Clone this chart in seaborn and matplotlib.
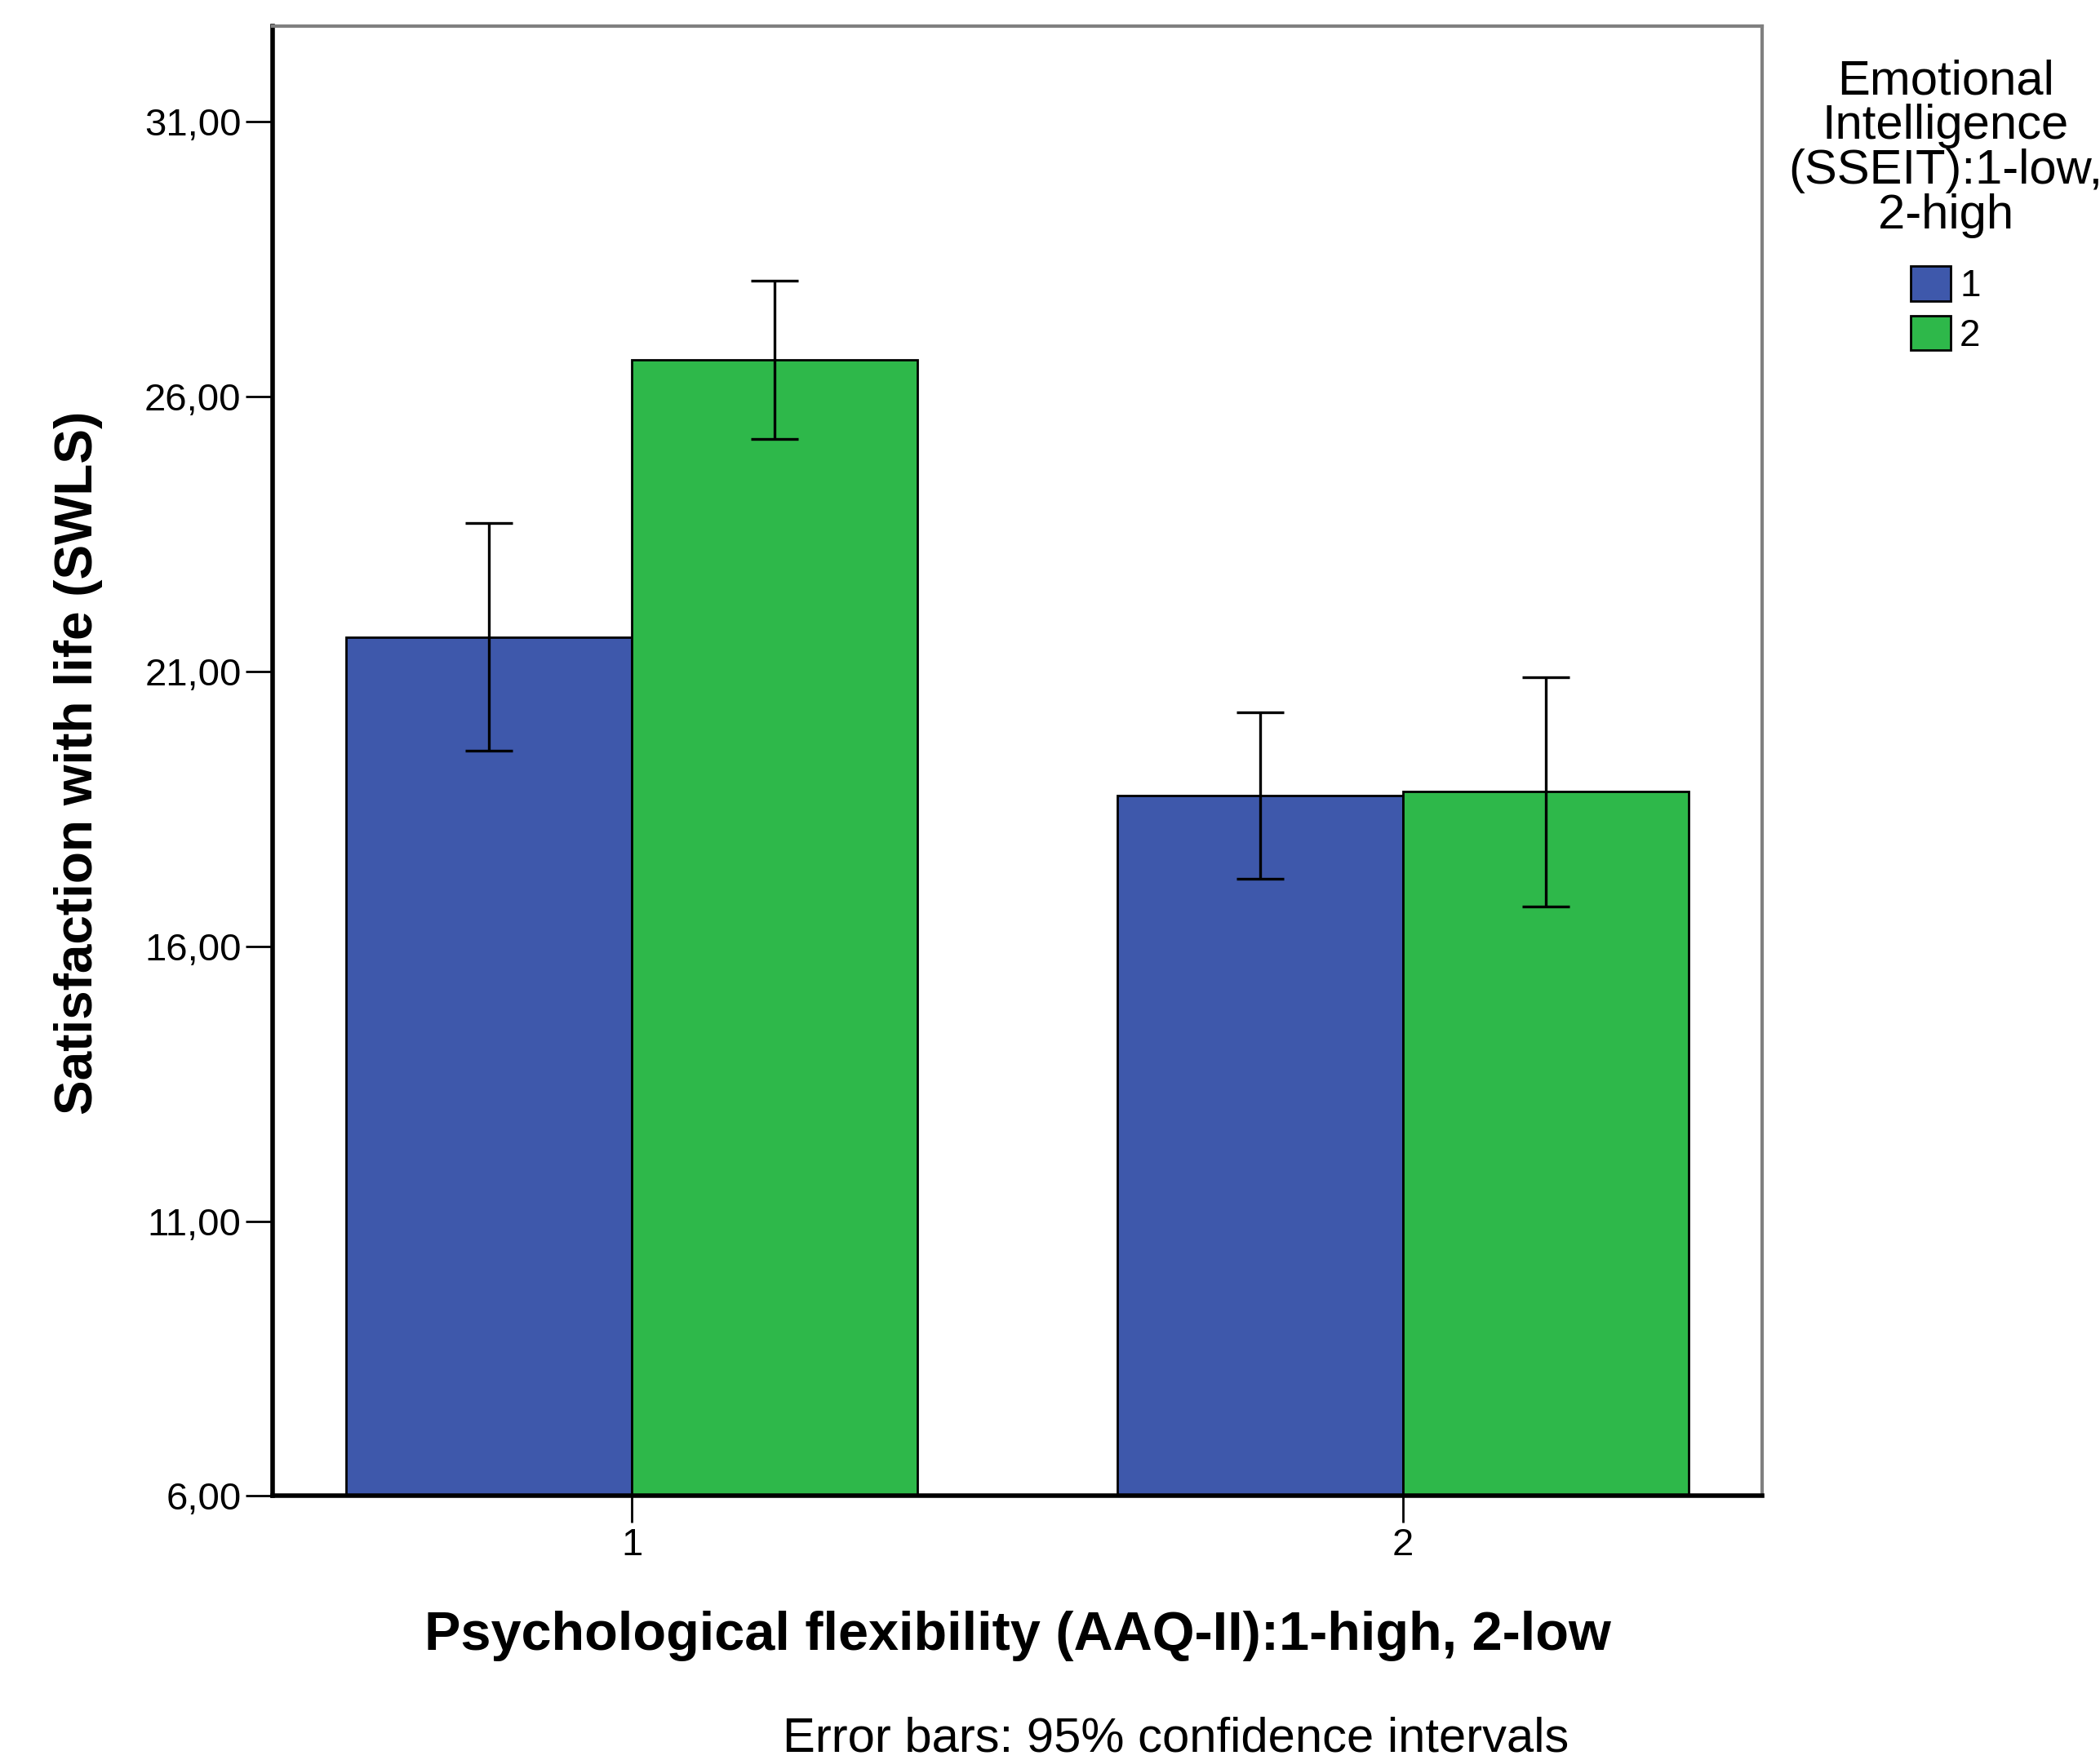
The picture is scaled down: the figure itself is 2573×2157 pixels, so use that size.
import matplotlib
matplotlib.use('Agg')
import numpy as np
import pandas as pd
import matplotlib.pyplot as plt
from matplotlib.patches import Patch
import seaborn as sns

# values
flex_group = ['1', '1', '2', '2']          # Psychological flexibility (AAQ-II)
ei_group = ['1', '2', '1', '2']            # Emotional Intelligence (SSEIT)
swls_mean = [21.62, 26.66, 18.74, 18.82]
ci_low = [19.55, 25.23, 17.23, 16.72]
ci_high = [23.69, 28.10, 20.25, 20.89]

yticks = [6, 11, 16, 21, 26, 31]
ytick_labels = ['6,00', '11,00', '16,00', '21,00', '26,00', '31,00']

blue = '#3E58AB'
green = '#2EB84A'

df = pd.DataFrame({'flex': flex_group, 'ei': ei_group, 'swls': swls_mean,
                   'lo': ci_low, 'hi': ci_high})

sns.set_style('white')
plt.rcParams['font.family'] = ['Liberation Sans', 'DejaVu Sans']
plt.rcParams['text.color'] = 'black'
plt.rcParams['axes.labelcolor'] = 'black'
plt.rcParams['xtick.color'] = 'black'
plt.rcParams['ytick.color'] = 'black'

fig = plt.figure(figsize=(25.73, 21.57), dpi=100)
ax = fig.add_axes([0.130, 0.150, 0.709, 0.835])

sns.barplot(data=df, x='flex', y='swls', hue='ei', order=['1', '2'],
            hue_order=['1', '2'], palette=[blue, green], width=0.74,
            errorbar=None, edgecolor='black', linewidth=2, legend=False,
            saturation=1, ax=ax)

# error bars at the centres of the drawn bars
for level, cont in zip(['1', '2'], ax.containers):
    for cat, bar in zip(['1', '2'], cont):
        row = df[(df.flex == cat) & (df.ei == level)].iloc[0]
        xc = bar.get_x() + bar.get_width() / 2
        ax.errorbar([xc], [row.swls], yerr=[[row.swls - row.lo], [row.hi - row.swls]],
                    fmt='none', ecolor='black', elinewidth=2.4, capsize=21,
                    capthick=2.4, zorder=4)

ax.set_xlim(-0.465, 1.465)
ax.set_ylim(6, 32.73)
ax.set_yticks(yticks)
ax.set_yticklabels(ytick_labels)

ax.tick_params(axis='both', direction='out', length=24, width=2, color='black',
               labelcolor='black', labelsize=34, pad=4, left=True, bottom=True)

for side in ['left', 'bottom']:
    ax.spines[side].set_color('black')
    ax.spines[side].set_linewidth(4)
for side in ['top', 'right']:
    ax.spines[side].set_color('#808080')
    ax.spines[side].set_linewidth(3)

ax.set_xlabel('Psychological flexibility (AAQ-II):1-high, 2-low',
              fontsize=48, fontweight='bold', va='center', color='black')
ax.xaxis.set_label_coords(0.5, -0.095)
ax.set_ylabel('Satisfaction with life (SWLS)', fontsize=46,
              fontweight='bold', va='center', color='black')
ax.yaxis.set_label_coords(-0.131, 0.499)

fig.text(1441 / 2573, 1 - 2131 / 2157, 'Error bars: 95% confidence intervals',
         ha='center', va='center', fontsize=43, color='black')

# legend title drawn as its own centred text block, entries below it
fig.text(2384 / 2573, 1 - 72 / 2157, 'Emotional\nIntelligence\n(SSEIT):1-low,\n2-high',
         ha='center', va='top', multialignment='center', fontsize=43,
         linespacing=1.0, color='black')

handles = [Patch(facecolor=blue, edgecolor='black', linewidth=2),
           Patch(facecolor=green, edgecolor='black', linewidth=2)]
leg = fig.legend(handles, ['1', '2'],
                 loc='upper center', bbox_to_anchor=(2384 / 2573, 1 - 326 / 2157),
                 frameon=False, fontsize=33, labelcolor='black',
                 handlelength=1.05, handleheight=1.05, handletextpad=0.25,
                 labelspacing=0.3, borderpad=0, borderaxespad=0)

fig.savefig('out.png', dpi=100)
